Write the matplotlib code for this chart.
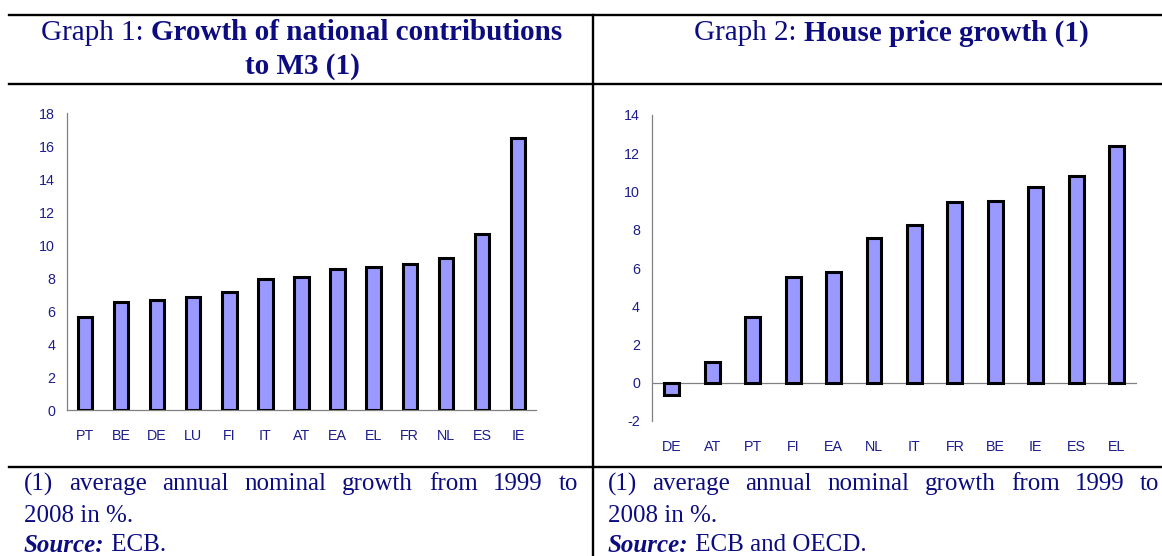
import matplotlib
matplotlib.use("Agg")
import matplotlib.pyplot as plt
from matplotlib.lines import Line2D

plt.rcParams["axes.unicode_minus"] = False

# ---------------- data ----------------
g1_countries = ["PT", "BE", "DE", "LU", "FI", "IT", "AT", "EA", "EL", "FR", "NL", "ES", "IE"]
g1_values = [5.65, 6.53, 6.67, 6.85, 7.15, 7.96, 8.08, 8.53, 8.69, 8.87, 9.23, 10.65, 16.5]
g1_yticks = [0, 2, 4, 6, 8, 10, 12, 14, 16, 18]

g2_countries = ["DE", "AT", "PT", "FI", "EA", "NL", "IT", "FR", "BE", "IE", "ES", "EL"]
g2_values = [-0.65, 1.10, 3.45, 5.55, 5.77, 7.58, 8.24, 9.45, 9.50, 10.24, 10.81, 12.39]
g2_yticks = [-2, 0, 2, 4, 6, 8, 10, 12, 14]

# ---------------- style ----------------
W, H = 1162, 556
NAVY = "#0c0c80"
TICK = "#1c1c8c"
BAR = "#9999ff"
SPINE = "#808080"
SERIF = "Liberation Serif"
SANS = "Liberation Sans"

fig = plt.figure(figsize=(W / 100, H / 100), dpi=100)
fig.patch.set_facecolor("white")


def fx(px):
    return px / W


def fy(py):
    return 1 - py / H


def style_axes(ax):
    for s in ["top", "right"]:
        ax.spines[s].set_visible(False)
    ax.spines["left"].set_color(SPINE)
    ax.spines["left"].set_linewidth(0.9)
    ax.spines["bottom"].set_color(SPINE)
    ax.spines["bottom"].set_linewidth(0.9)
    ax.tick_params(axis="both", length=0, colors=TICK, labelsize=10.3)
    ax.tick_params(axis="x", pad=13.5)
    ax.tick_params(axis="y", pad=8.5)
    for lab in ax.get_xticklabels() + ax.get_yticklabels():
        lab.set_fontfamily(SANS)
        lab.set_color(TICK)
    ax.set_facecolor("white")


# Graph 1
ax1 = fig.add_axes([fx(67), fy(410), fx(536 - 67), (410 - 113.3) / H])
x1 = list(range(len(g1_countries)))
ax1.bar(x1, g1_values, width=0.40, color=BAR, edgecolor="black", linewidth=2.2, zorder=3)
ax1.set_xlim(-0.5, len(g1_countries) - 0.5)
ax1.set_ylim(0, 18)
ax1.set_yticks(g1_yticks)
ax1.set_xticks(x1)
ax1.set_xticklabels(g1_countries)
style_axes(ax1)

# Graph 2
ax2 = fig.add_axes([fx(651.7), fy(421), fx(1136.7 - 651.7), (421 - 115) / H])
x2 = list(range(len(g2_countries)))
ax2.bar(x2, g2_values, width=0.37, color=BAR, edgecolor="black", linewidth=2.2, zorder=3)
ax2.set_xlim(-0.5, len(g2_countries) - 0.5)
ax2.set_ylim(-2, 14)
ax2.set_yticks(g2_yticks)
ax2.set_xticks(x2)
ax2.set_xticklabels(g2_countries)
style_axes(ax2)
ax2.spines["bottom"].set_visible(False)
ax2.axhline(0, color=SPINE, linewidth=0.9, zorder=2)

# ---------------- table lines ----------------
LW = 1.7
for yy in [15, 84, 467]:
    fig.add_artist(Line2D([fx(9), fx(W)], [fy(yy), fy(yy)], color="black", linewidth=LW,
                          transform=fig.transFigure))
fig.add_artist(Line2D([fx(593), fx(593)], [fy(15), fy(H)], color="black", linewidth=LW,
                      transform=fig.transFigure))

renderer = fig.canvas.get_renderer()


def text_width(s, **kw):
    t = fig.text(0, 0, s, **kw)
    bb = t.get_window_extent(renderer=renderer)
    t.remove()
    return bb.width


def mixed_line(pieces, cx, cy, size, align="center", x_left=None):
    """pieces: list of (string, weight, style)"""
    widths = [text_width(s, fontsize=size, family=SERIF, weight=w, style=st) for s, w, st in pieces]
    total = sum(widths)
    x = cx - total / 2 if align == "center" else x_left
    for (s, w, st), wd in zip(pieces, widths):
        fig.text(fx(x), fy(cy), s, fontsize=size, family=SERIF, weight=w, style=st,
                 color=NAVY, ha="left", va="center")
        x += wd


def justified(words, x0, x1, cy, size):
    widths = [text_width(w, fontsize=size, family=SERIF) for w in words]
    gap = (x1 - x0 - sum(widths)) / (len(words) - 1)
    x = x0
    for w, wd in zip(words, widths):
        fig.text(fx(x), fy(cy), w, fontsize=size, family=SERIF, color=NAVY,
                 ha="left", va="center")
        x += wd + gap


HS = 21
mixed_line([("Graph 1: ", "normal", "normal"),
            ("Growth of national contributions", "bold", "normal")], 302, 33, HS)
mixed_line([("to M3 (1)", "bold", "normal")], 302, 66, HS)
mixed_line([("Graph 2: ", "normal", "normal"),
            ("House price growth (1)", "bold", "normal")], 891, 33, HS)

FS = 18
note_words = "(1) average annual nominal growth from 1999 to".split()
justified(note_words, 24, 578, 484, FS)
justified(note_words, 608, 1159, 484, FS)
mixed_line([("2008 in %.", "normal", "normal")], 0, 516, FS, align="left", x_left=24)
mixed_line([("2008 in %.", "normal", "normal")], 0, 516, FS, align="left", x_left=608)
mixed_line([("Source:", "bold", "italic"), (" ECB.", "normal", "normal")], 0, 545, FS,
           align="left", x_left=24)
mixed_line([("Source:", "bold", "italic"), (" ECB and OECD.", "normal", "normal")], 0, 545, FS,
           align="left", x_left=608)

fig.savefig("out.png", dpi=100, facecolor="white")
